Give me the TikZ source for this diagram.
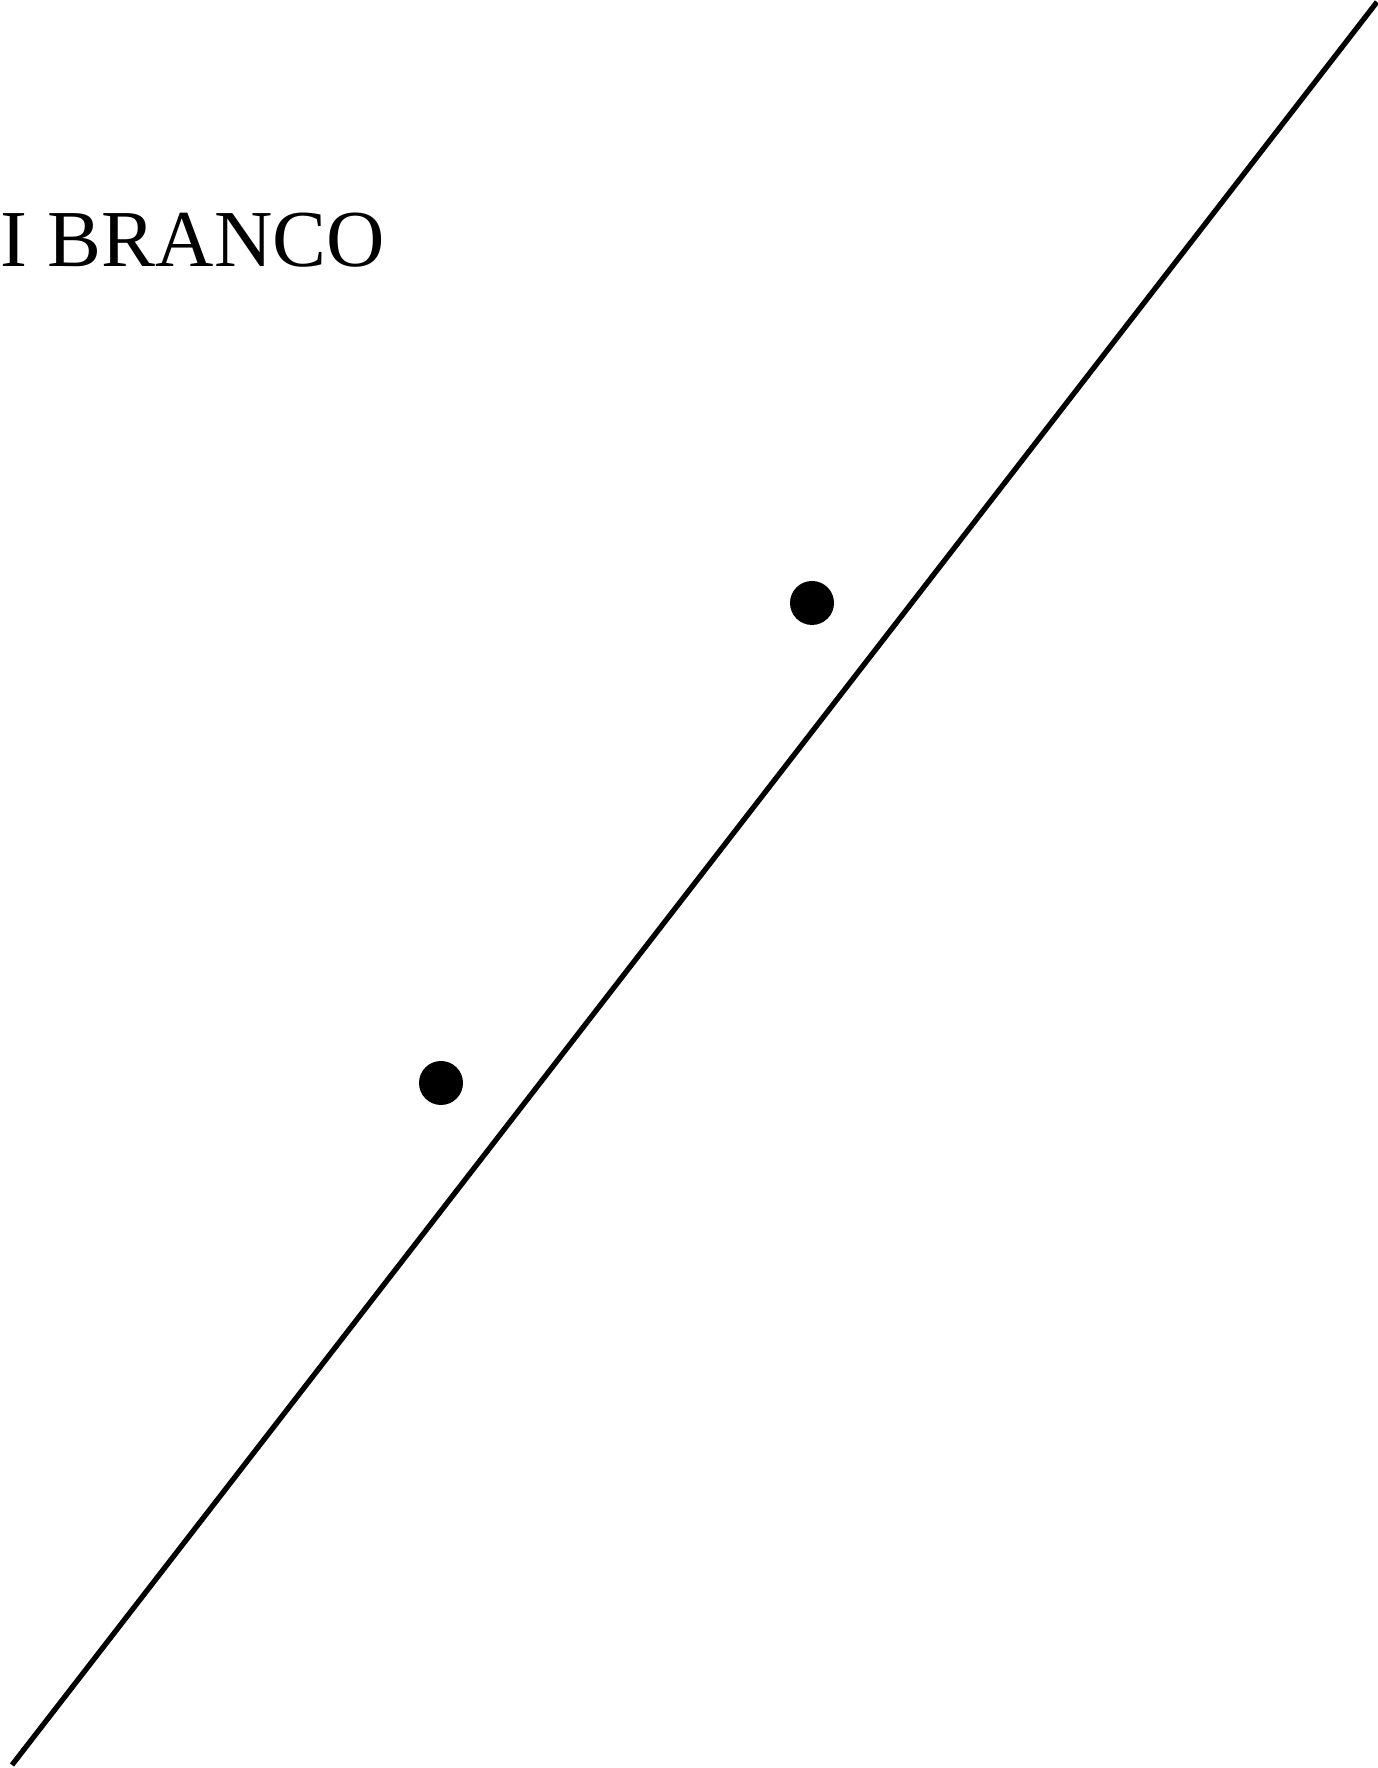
\documentclass[tikz,border=0pt]{standalone}
\usepackage{fontspec}
\setmainfont{Liberation Serif}
\usepackage{tikz}
\usetikzlibrary{positioning}

\begin{document}
\begin{tikzpicture}[
dot/.style={circle, fill=black, inner sep=0pt, minimum size=0.44cm},
label/.style={anchor=base west, inner sep=0pt, font=\fontsize{23}{27}\selectfont},
ln/.style={line width=1.5pt}
]
\useasboundingbox (0,0) rectangle (13.77,17.68);

% Title
\node[label] (title) at (0,15.01) {I BRANCO};

% Line
\coordinate (lo) at (0.12,0.03);
\coordinate (hi) at (13.77,17.66);
\draw[ln] (lo) -- (hi);

% Points
\node[dot] (p1) at (8.12,11.65) {};
\node[dot] (p2) at (4.41,6.85) {};

\end{tikzpicture}
\end{document}
